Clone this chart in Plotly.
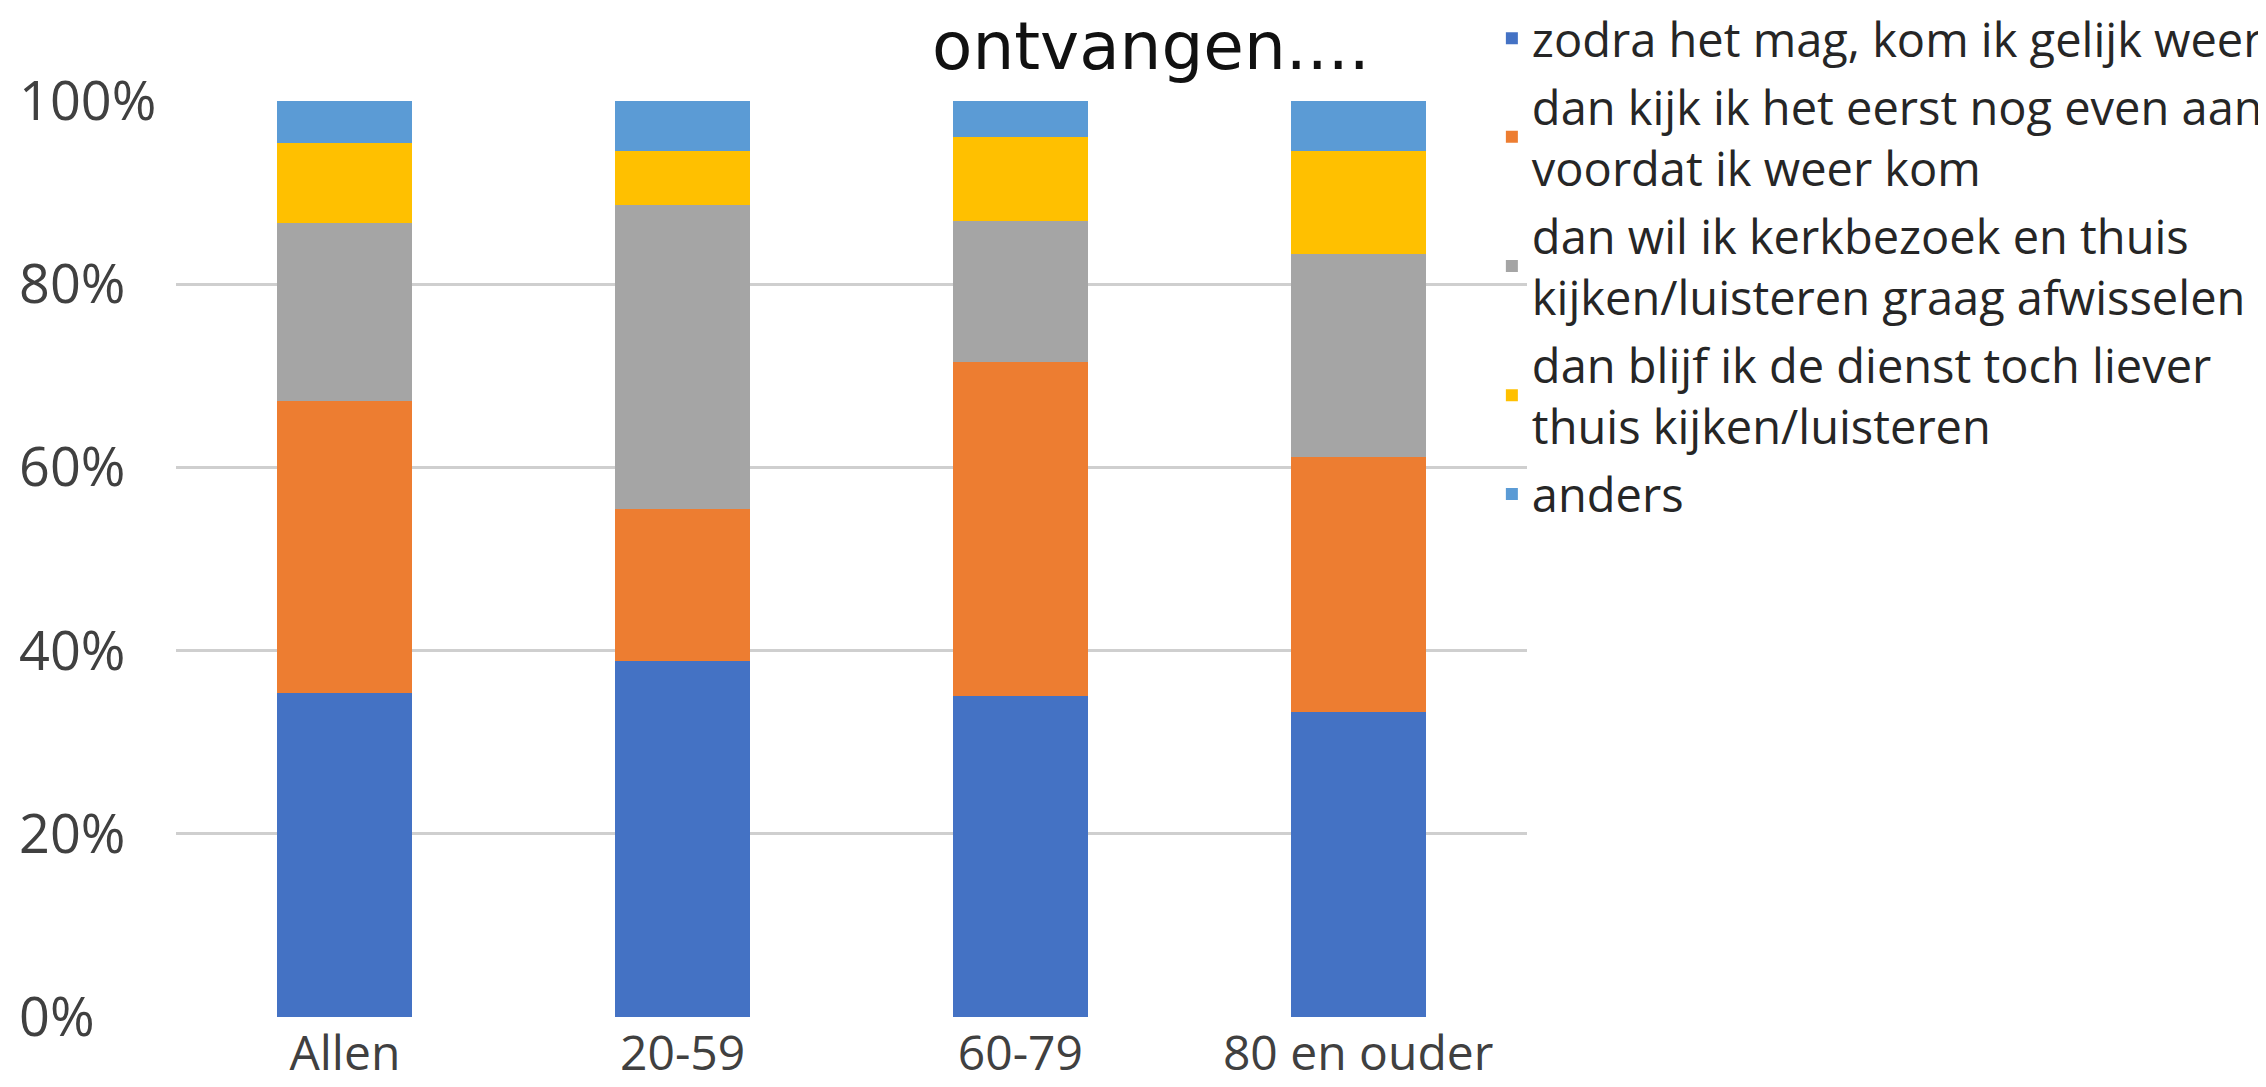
import plotly.graph_objects as go

categories = ["Allen", "20-59", "60-79", "80 en ouder"]

series_names = [
    "zodra het mag, kom ik gelijk weer",
    "dan kijk ik het eerst nog even aan<br>voordat ik weer kom",
    "dan wil ik kerkbezoek en thuis<br>kijken/luisteren graag afwisselen",
    "dan blijf ik de dienst toch liever<br>thuis kijken/luisteren",
    "anders",
]

zodra = [0.354, 0.389, 0.350, 0.333]
eerst_kijken = [0.319, 0.166, 0.365, 0.278]
afwisselen = [0.194, 0.331, 0.154, 0.222]
thuis = [0.087, 0.059, 0.092, 0.112]
anders = [0.046, 0.055, 0.039, 0.055]

series_values = [zodra, eerst_kijken, afwisselen, thuis, anders]
colors = ["#4472C4", "#ED7D31", "#A5A5A5", "#FFC000", "#5B9BD5"]

y_tickvals = [0, 0.2, 0.4, 0.6, 0.8, 1.0]
y_ticktext = ["0%", "20%", "40%", "60%", "80%", "100%"]

title_text = "ontvangen...."

fig = go.Figure()
for i, (name, vals, col) in enumerate(zip(series_names, series_values, colors)):
    fig.add_trace(go.Bar(
        x=categories, y=vals, name=name,
        legendgroup=f"g{i}",
        marker=dict(color=col, line=dict(width=0)),
    ))

fig.update_layout(
    width=2258, height=1079,
    barmode="stack",
    bargap=0.6,
    paper_bgcolor="white",
    plot_bgcolor="white",
    margin=dict(l=168, r=739, t=93, b=70, autoexpand=False),
    font=dict(family="Open Sans", color="#404040"),
    showlegend=True,
    legend=dict(
        x=0.974, xanchor="left", y=1.109, yanchor="top",
        traceorder="grouped",
        tracegroupgap=4,
        font=dict(family="Open Sans", size=47, color="#262626"),
        bgcolor="rgba(0,0,0,0)",
        itemwidth=30,
        valign="middle",
    ),
    annotations=[dict(
        text=title_text, xref="paper", yref="paper",
        x=0.7217, y=1.059, xanchor="center", yanchor="middle",
        showarrow=False,
        font=dict(family="DejaVu Sans", size=66, color="#111111"),
    )],
)

fig.update_xaxes(
    type="category",
    range=[-0.5, 3.5],
    showgrid=False,
    showline=False,
    zeroline=False,
    ticks="",
    tickfont=dict(family="Open Sans", size=48, color="#404040"),
    ticklabelstandoff=4,
)

fig.update_yaxes(
    range=[0, 1],
    tickvals=y_tickvals,
    ticktext=y_ticktext,
    showgrid=True,
    gridcolor="#cfcfcf",
    gridwidth=3,
    zeroline=False,
    showline=False,
    ticks="",
    ticklabelposition="inside",
    ticklabeloverflow="allow",
    ticklabelstandoff=-160,
    tickfont=dict(family="Open Sans", size=54, color="#404040"),
)

fig.write_html("out.html")
